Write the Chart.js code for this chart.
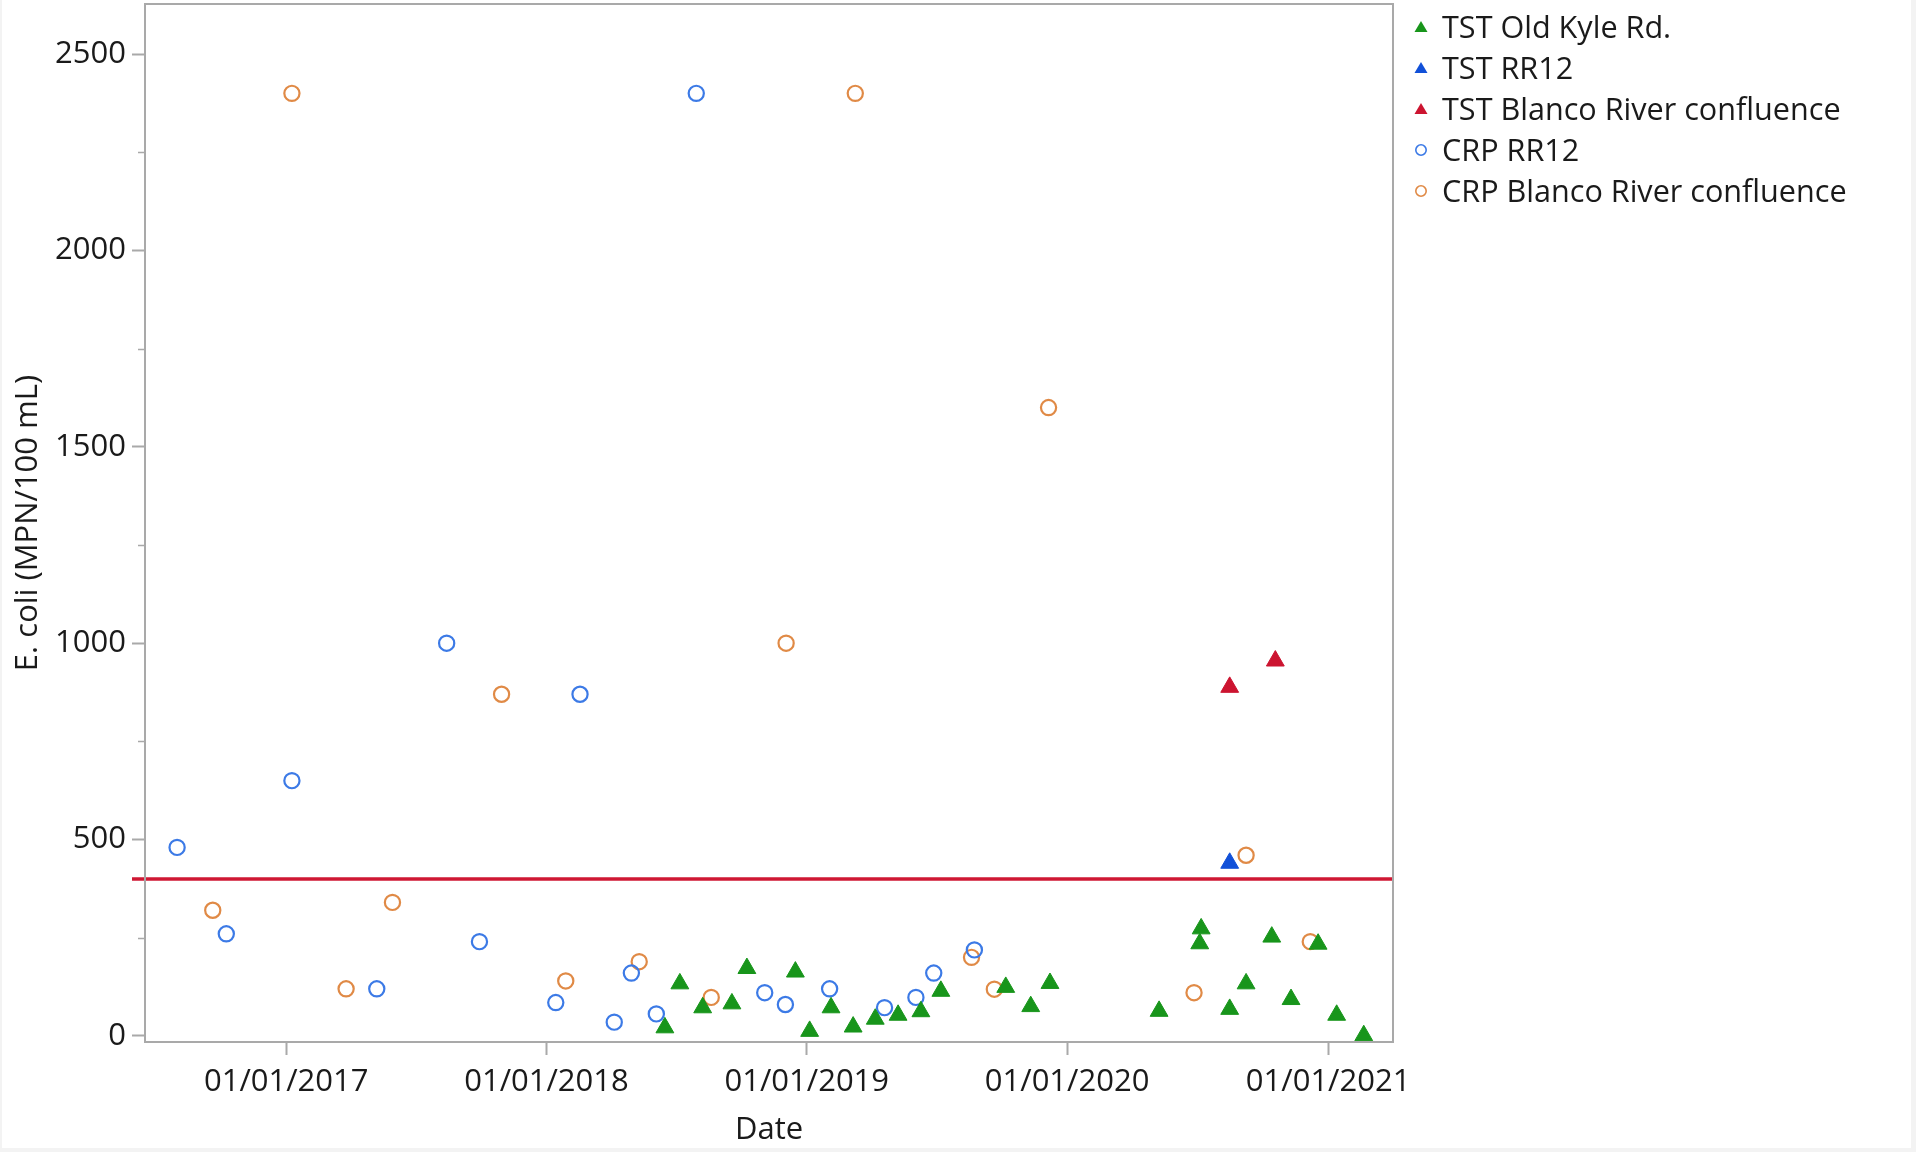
<!DOCTYPE html>
<html>
<head>
<meta charset="utf-8">
<title>E. coli by date</title>
<script src="https://cdn.jsdelivr.net/npm/chart.js@4.4.1/dist/chart.umd.min.js"></script>
<style>
  html, body { margin: 0; padding: 0; }
  body {
    width: 1916px; height: 1152px; position: relative; overflow: hidden;
    background: #f3f3f3; font-family: 'Open Sans', 'Noto Sans', sans-serif;
  }
  #sheet { position: absolute; left: 2px; top: 0; width: 1909px; height: 1148px; background: #ffffff; }
  #plot { position: absolute; left: 0; top: 0; }
  #legend { position: absolute; left: 1409px; top: 6px; }
  .row { height: 41px; display: flex; align-items: center; white-space: nowrap; }
  .row svg { width: 24px; height: 24px; flex: none; margin-right: 9px; }
  .row span { font-size: 30.6px; line-height: 41px; color: #1a1a1a; }
</style>
</head>
<body>
<div id="sheet"></div>
<canvas id="plot" width="1916" height="1152"></canvas>
<div id="legend"></div>
<script>
// Axis ticks and reference level
const xTickLabels = ['01/01/2017', '01/01/2018', '01/01/2019', '01/01/2020', '01/01/2021'];
const yTickValues = [0, 500, 1000, 1500, 2000, 2500];
const yMinorTicks = [250, 750, 1250, 1750, 2250];
const threshold = 400;
const xRange = ['2016-06-17', '2021-04-02'];
const yRange = [-15.5, 2627.5];

// TST Old Kyle Rd.
const oldKyleDates = [
  '2018-06-16', '2018-07-07', '2018-08-08', '2018-09-18', '2018-10-09', '2018-12-16',
  '2019-01-05', '2019-02-04', '2019-03-07', '2019-04-07', '2019-05-09', '2019-06-10',
  '2019-07-08', '2019-10-07', '2019-11-11', '2019-12-08', '2020-05-09', '2020-07-05',
  '2020-07-07', '2020-08-16', '2020-09-08', '2020-10-14', '2020-11-10', '2020-12-18',
  '2021-01-13', '2021-02-20'
];
const oldKyleValues = [
  21, 133, 72, 82, 172, 163,
  12, 72, 23, 43, 53, 62,
  114, 124, 75, 134, 63, 235,
  273, 68, 133, 252, 93, 234,
  53, 1
];

// TST RR12
const tstRR12Dates = ['2020-08-16'];
const tstRR12Values = [440];

// TST Blanco River confluence
const tstBlancoDates = ['2020-08-16', '2020-10-19'];
const tstBlancoValues = [888, 955];

// CRP RR12
const crpRR12Dates = [
  '2016-08-01', '2016-10-09', '2017-01-09', '2017-05-08', '2017-08-14', '2017-09-29',
  '2018-01-14', '2018-02-17', '2018-04-06', '2018-04-30', '2018-06-04', '2018-07-30',
  '2018-11-03', '2018-12-02', '2019-02-02', '2019-04-20', '2019-06-03', '2019-06-28',
  '2019-08-24'
];
const crpRR12Values = [
  480, 260, 650, 120, 1000, 240,
  85, 870, 35, 160, 56, 2400,
  110, 80, 120, 72, 98, 160,
  219
];

// CRP Blanco River confluence
const crpBlancoDates = [
  '2016-09-20', '2017-01-09', '2017-03-26', '2017-05-30', '2017-10-30', '2018-01-28',
  '2018-05-11', '2018-08-20', '2018-12-03', '2019-03-10', '2019-08-20', '2019-09-21',
  '2019-12-06', '2020-06-27', '2020-09-08', '2020-12-07'
];
const crpBlancoValues = [
  320, 2400, 120, 340, 870, 140,
  189, 98, 1000, 2400, 200, 119,
  1600, 110, 460, 240
];

// ---- helpers ----
const isoToMs = s => { const [y, m, d] = s.split('-').map(Number); return Date.UTC(y, m - 1, d); };
const mdyToMs = s => { const [m, d, y] = s.split('/').map(Number); return Date.UTC(y, m - 1, d); };
const toPoints = (dates, values) => dates.map((d, i) => ({ x: isoToMs(d), y: values[i] }));

const FONT = { family: "'Open Sans', 'Noto Sans', sans-serif", size: 31 };
const TEXT = '#1a1a1a';
const FRAME = '#a9a9a9';

const series = [
  { label: 'TST Old Kyle Rd.', dates: oldKyleDates, values: oldKyleValues, color: '#18951b', shape: 'triangle' },
  { label: 'TST RR12', dates: tstRR12Dates, values: tstRR12Values, color: '#1150d8', shape: 'triangle' },
  { label: 'TST Blanco River confluence', dates: tstBlancoDates, values: tstBlancoValues, color: '#cc1430', shape: 'triangle' },
  { label: 'CRP RR12', dates: crpRR12Dates, values: crpRR12Values, color: '#3c7ae6', shape: 'circle' },
  { label: 'CRP Blanco River confluence', dates: crpBlancoDates, values: crpBlancoValues, color: '#e08a46', shape: 'circle' }
];

const datasets = series.map(s => s.shape === 'triangle'
  ? { label: s.label, data: toPoints(s.dates, s.values), pointStyle: 'triangle', pointRadius: 10.3,
      backgroundColor: s.color, borderColor: s.color, borderWidth: 1 }
  : { label: s.label, data: toPoints(s.dates, s.values), pointStyle: 'circle', pointRadius: 7.6,
      backgroundColor: 'rgba(0,0,0,0)', borderColor: s.color, borderWidth: 2.2 });

// frame around the plot area, minor y ticks and the 400 reference line
const decorations = {
  id: 'decorations',
  beforeDatasetsDraw(chart) {
    const { ctx, chartArea: a, scales: { y } } = chart;
    ctx.save();
    const ly = Math.round(y.getPixelForValue(threshold));
    ctx.strokeStyle = '#cf1733';
    ctx.lineWidth = 3.4;
    ctx.beginPath();
    ctx.moveTo(a.left - 13, ly);
    ctx.lineTo(a.right, ly);
    ctx.stroke();
    ctx.restore();
  },
  afterDraw(chart) {
    const { ctx, chartArea: a, scales: { y } } = chart;
    ctx.save();
    ctx.strokeStyle = FRAME;
    ctx.lineWidth = 2;
    ctx.strokeRect(a.left, a.top, a.right - a.left, a.bottom - a.top);
    ctx.beginPath();
    yMinorTicks.forEach(v => {
      const py = Math.round(y.getPixelForValue(v)) + 0.5;
      ctx.moveTo(a.left - 7, py);
      ctx.lineTo(a.left, py);
    });
    ctx.lineWidth = 1.5;
    ctx.stroke();
    ctx.restore();
  }
};

new Chart(document.getElementById('plot'), {
  type: 'scatter',
  data: { datasets },
  plugins: [decorations],
  options: {
    responsive: false,
    animation: false,
    devicePixelRatio: 1,
    events: [],
    layout: { autoPadding: false, padding: { left: 0, top: 4, right: 523, bottom: 0 } },
    plugins: { legend: { display: false }, tooltip: { enabled: false } },
    scales: {
      x: {
        type: 'linear',
        position: 'bottom',
        min: isoToMs(xRange[0]),
        max: isoToMs(xRange[1]),
        afterBuildTicks: s => { s.ticks = xTickLabels.map(l => ({ value: mdyToMs(l) })); },
        afterFit: s => { s.height = 110; s.paddingLeft = 0; s.paddingRight = 0; },
        ticks: {
          callback: (v, i) => xTickLabels[i],
          font: FONT, color: TEXT, padding: 8.5, maxRotation: 0, autoSkip: false
        },
        grid: { display: true, drawOnChartArea: false, drawTicks: true, tickLength: 13, tickColor: FRAME, tickWidth: 2 },
        border: { display: false },
        title: { display: true, text: 'Date', font: FONT, color: TEXT, padding: { top: 0, bottom: 3.5 } }
      },
      y: {
        type: 'linear',
        min: yRange[0],
        max: yRange[1],
        afterBuildTicks: s => { s.ticks = yTickValues.map(v => ({ value: v })); },
        afterFit: s => { s.width = 145; s.paddingTop = 0; s.paddingBottom = 0; },
        ticks: { callback: v => String(v), font: FONT, color: TEXT, padding: 6 },
        grid: { display: true, drawOnChartArea: false, drawTicks: true, tickLength: 13, tickColor: FRAME, tickWidth: 2 },
        border: { display: false },
        title: { display: true, text: 'E. coli (MPN/100 mL)', font: FONT, color: TEXT, padding: { top: 10, bottom: 0 } }
      }
    }
  }
});

// legend entries built from the series list
const legend = document.getElementById('legend');
const NS = 'http://www.w3.org/2000/svg';
series.forEach(s => {
  const row = document.createElement('div');
  row.className = 'row';
  const svg = document.createElementNS(NS, 'svg');
  svg.setAttribute('viewBox', '0 0 24 24');
  let mark;
  if (s.shape === 'triangle') {
    mark = document.createElementNS(NS, 'polygon');
    mark.setAttribute('points', '12,6 18.5,17 5.5,17');
    mark.setAttribute('fill', s.color);
  } else {
    mark = document.createElementNS(NS, 'circle');
    mark.setAttribute('cx', '12'); mark.setAttribute('cy', '12'); mark.setAttribute('r', '5.2');
    mark.setAttribute('fill', 'none');
    mark.setAttribute('stroke', s.color);
    mark.setAttribute('stroke-width', '1.6');
  }
  svg.appendChild(mark);
  const label = document.createElement('span');
  label.textContent = s.label;
  row.appendChild(svg);
  row.appendChild(label);
  legend.appendChild(row);
});
</script>
</body>
</html>
